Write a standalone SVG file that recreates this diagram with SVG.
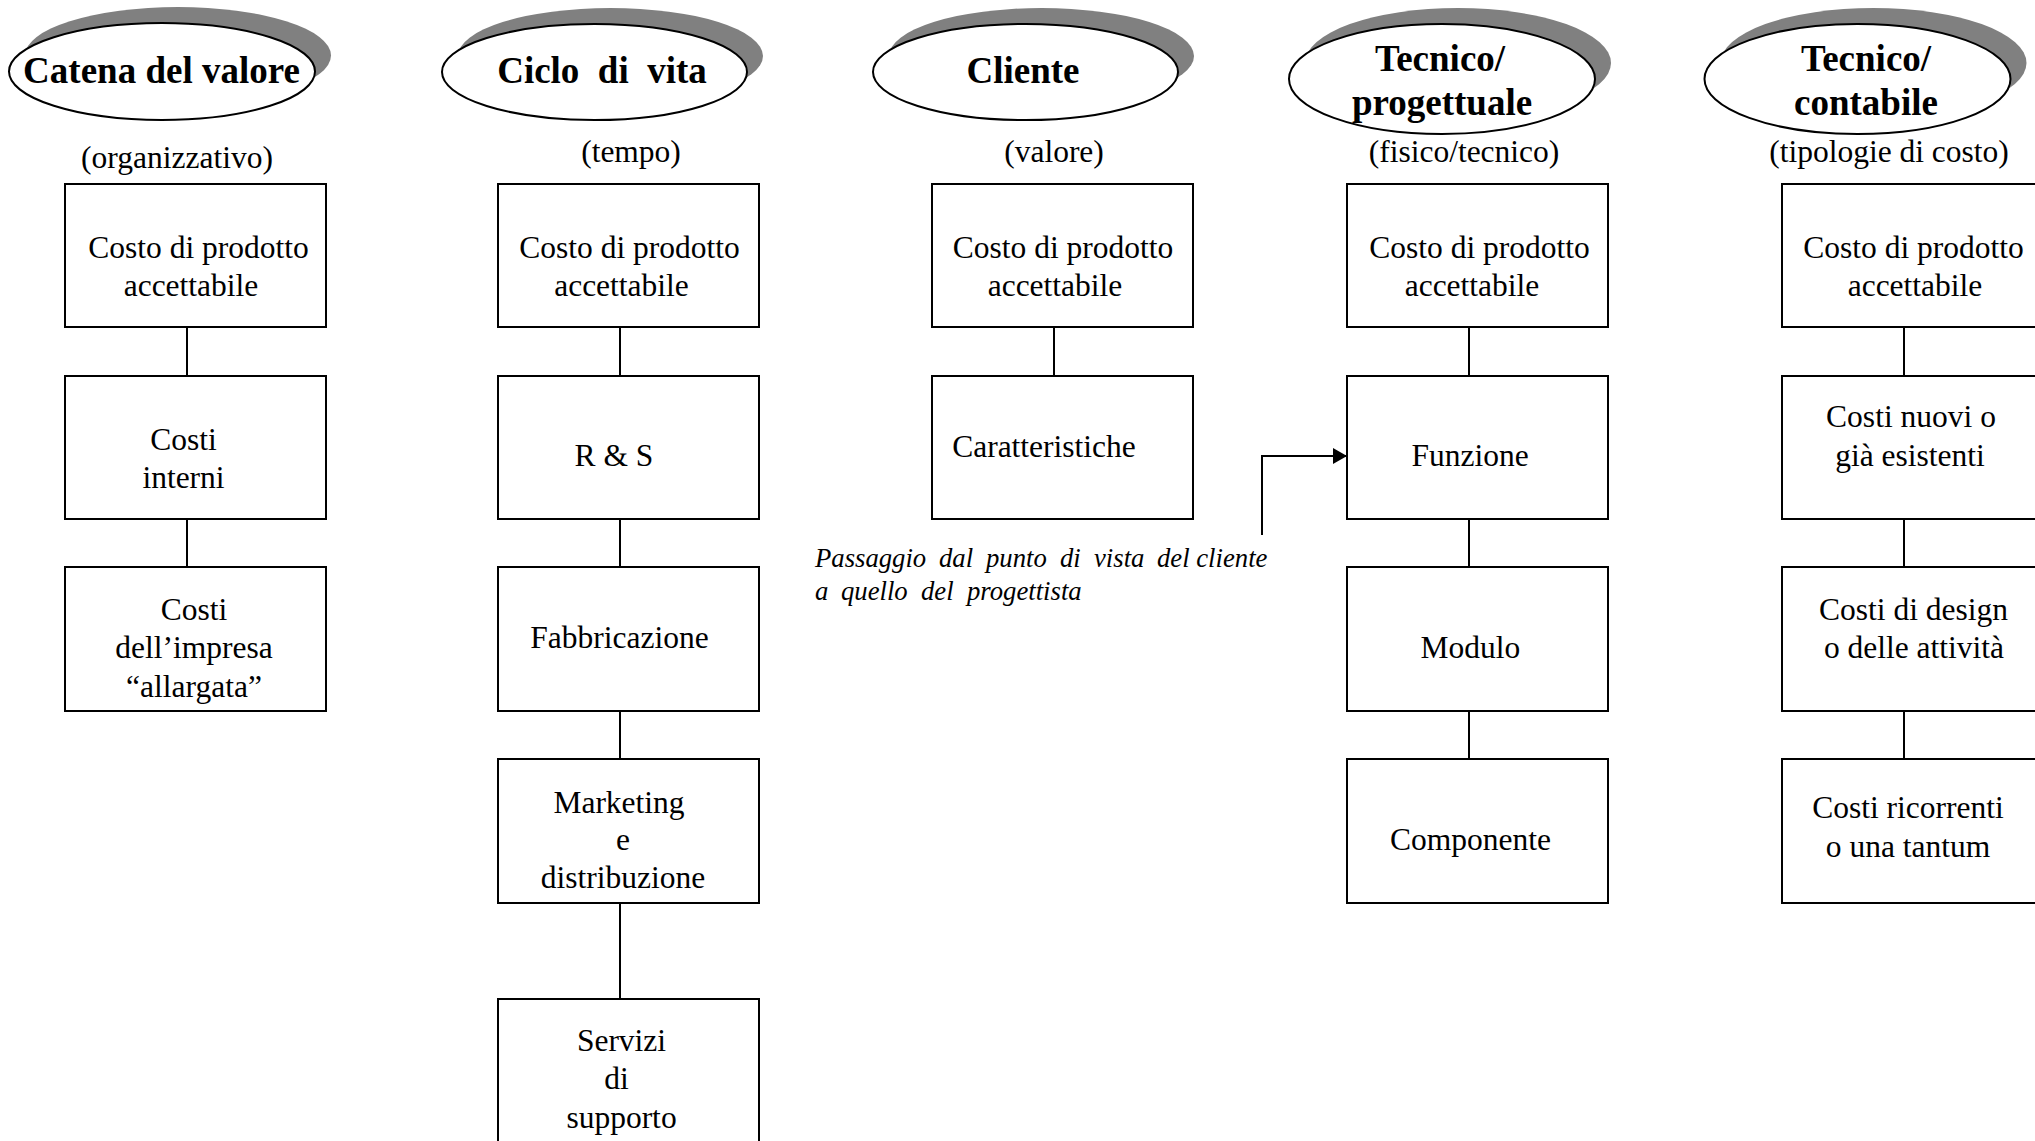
<svg xmlns="http://www.w3.org/2000/svg" width="2035" height="1141" viewBox="0 0 2035 1141">
  <style>
    .bg { fill: #ffffff; }
    .box { fill: #ffffff; stroke: #000000; stroke-width: 2; }
    .ell { fill: #ffffff; stroke: #000000; stroke-width: 2; }
    .shadow { fill: #808080; }
    .conn { fill: none; stroke: #000000; stroke-width: 2; }
    text { font-family: "Liberation Serif", "Times New Roman", serif; fill: #000000; }
    .title { font-size: 37px; font-weight: bold; text-anchor: middle; }
    .lbl { font-size: 31.5px; text-anchor: middle; }
    .note { font-size: 26.7px; font-style: italic; }
  </style>
  <defs>
    <marker id="arrow" viewBox="0 0 14 16" refX="14" refY="8" markerWidth="14" markerHeight="16" markerUnits="userSpaceOnUse" orient="auto">
      <path d="M0,0 L14,8 L0,16 Z" fill="#000000"/>
    </marker>
  </defs>

  <rect class="bg" x="0" y="0" width="2035" height="1141"/>

  <!-- column headers: ellipse with offset drop shadow -->
  <g id="head-catena">
    <ellipse class="shadow" cx="178" cy="55.5" rx="153" ry="48.5"/>
    <ellipse class="ell" cx="162" cy="71.5" rx="153" ry="48.5"/>
    <text class="title" x="161.5" y="83">Catena del valore</text>
  </g>
  <g id="head-ciclo">
    <ellipse class="shadow" cx="610.5" cy="56" rx="152.5" ry="48"/>
    <ellipse class="ell" cx="594.5" cy="72" rx="152.5" ry="48"/>
    <text class="title" x="602" y="83" xml:space="preserve">Ciclo  di  vita</text>
  </g>
  <g id="head-cliente">
    <ellipse class="shadow" cx="1041.5" cy="56" rx="152.5" ry="48"/>
    <ellipse class="ell" cx="1025.5" cy="72" rx="152.5" ry="48"/>
    <text class="title" x="1023" y="83">Cliente</text>
  </g>
  <g id="head-progettuale">
    <ellipse class="shadow" cx="1458" cy="63" rx="153" ry="55"/>
    <ellipse class="ell" cx="1442" cy="79" rx="153" ry="55"/>
    <text class="title"><tspan x="1440" y="71">Tecnico/</tspan><tspan x="1442" y="115">progettuale</tspan></text>
  </g>
  <g id="head-contabile">
    <ellipse class="shadow" cx="1873.5" cy="63" rx="153" ry="55"/>
    <ellipse class="ell" cx="1857.5" cy="79" rx="153" ry="55"/>
    <text class="title"><tspan x="1866" y="71">Tecnico/</tspan><tspan x="1866" y="115">contabile</tspan></text>
  </g>

  <!-- column subtitles -->
  <g id="subtitles">
    <text class="lbl" x="177" y="168">(organizzativo)</text>
    <text class="lbl" x="631" y="162">(tempo)</text>
    <text class="lbl" x="1054" y="162">(valore)</text>
    <text class="lbl" x="1464" y="162">(fisico/tecnico)</text>
    <text class="lbl" x="1889" y="162">(tipologie di costo)</text>
  </g>

  <!-- connectors -->
  <g id="connectors">
    <line class="conn" x1="187" y1="327" x2="187" y2="376"/>
    <line class="conn" x1="187" y1="519" x2="187" y2="567"/>

    <line class="conn" x1="620" y1="327" x2="620" y2="376"/>
    <line class="conn" x1="620" y1="519" x2="620" y2="567"/>
    <line class="conn" x1="620" y1="711" x2="620" y2="759"/>
    <line class="conn" x1="620" y1="903" x2="620" y2="999"/>

    <line class="conn" x1="1054" y1="327" x2="1054" y2="376"/>

    <line class="conn" x1="1469" y1="327" x2="1469" y2="376"/>
    <line class="conn" x1="1469" y1="519" x2="1469" y2="567"/>
    <line class="conn" x1="1469" y1="711" x2="1469" y2="759"/>

    <line class="conn" x1="1904" y1="327" x2="1904" y2="376"/>
    <line class="conn" x1="1904" y1="519" x2="1904" y2="567"/>
    <line class="conn" x1="1904" y1="711" x2="1904" y2="759"/>

    <polyline class="conn" points="1262,535 1262,456 1347,456" marker-end="url(#arrow)"/>
  </g>

  <!-- column 1: catena del valore -->
  <g id="c1-costo">
    <rect class="box" x="65" y="184" width="261" height="143"/>
    <text class="lbl"><tspan x="198.5" y="258">Costo di prodotto</tspan><tspan x="191" y="296">accettabile</tspan></text>
  </g>
  <g id="c1-interni">
    <rect class="box" x="65" y="376" width="261" height="143"/>
    <text class="lbl"><tspan x="183.5" y="450">Costi</tspan><tspan x="183.5" y="488">interni</tspan></text>
  </g>
  <g id="c1-allargata">
    <rect class="box" x="65" y="567" width="261" height="144"/>
    <text class="lbl"><tspan x="194" y="620">Costi</tspan><tspan x="194" y="658">dell’impresa</tspan><tspan x="194" y="697">“allargata”</tspan></text>
  </g>

  <!-- column 2: ciclo di vita -->
  <g id="c2-costo">
    <rect class="box" x="498" y="184" width="261" height="143"/>
    <text class="lbl"><tspan x="629.5" y="258">Costo di prodotto</tspan><tspan x="621.5" y="296">accettabile</tspan></text>
  </g>
  <g id="c2-rs">
    <rect class="box" x="498" y="376" width="261" height="143"/>
    <text class="lbl" x="614" y="466">R &amp; S</text>
  </g>
  <g id="c2-fabbricazione">
    <rect class="box" x="498" y="567" width="261" height="144"/>
    <text class="lbl" x="619.5" y="648">Fabbricazione</text>
  </g>
  <g id="c2-marketing">
    <rect class="box" x="498" y="759" width="261" height="144"/>
    <text class="lbl"><tspan x="619" y="813">Marketing</tspan><tspan x="623" y="850">e</tspan><tspan x="623" y="888">distribuzione</tspan></text>
  </g>
  <g id="c2-servizi">
    <rect class="box" x="498" y="999" width="261" height="143"/>
    <text class="lbl"><tspan x="621.5" y="1051">Servizi</tspan><tspan x="616.5" y="1089">di</tspan><tspan x="621.5" y="1128">supporto</tspan></text>
  </g>

  <!-- column 3: cliente -->
  <g id="c3-costo">
    <rect class="box" x="932" y="184" width="261" height="143"/>
    <text class="lbl"><tspan x="1063" y="258">Costo di prodotto</tspan><tspan x="1055" y="296">accettabile</tspan></text>
  </g>
  <g id="c3-caratteristiche">
    <rect class="box" x="932" y="376" width="261" height="143"/>
    <text class="lbl" x="1044" y="457">Caratteristiche</text>
  </g>

  <!-- transition note -->
  <g id="note-passaggio">
    <text class="note" y="567"><tspan x="815">Passaggio</tspan><tspan x="939">dal</tspan><tspan x="986">punto</tspan><tspan x="1060">di</tspan><tspan x="1094">vista</tspan><tspan x="1157">del cliente</tspan></text>
    <text class="note" y="600"><tspan x="815">a</tspan><tspan x="841">quello</tspan><tspan x="921">del</tspan><tspan x="967">progettista</tspan></text>
  </g>

  <!-- column 4: tecnico / progettuale -->
  <g id="c4-costo">
    <rect class="box" x="1347" y="184" width="261" height="143"/>
    <text class="lbl"><tspan x="1479.5" y="258">Costo di prodotto</tspan><tspan x="1472" y="296">accettabile</tspan></text>
  </g>
  <g id="c4-funzione">
    <rect class="box" x="1347" y="376" width="261" height="143"/>
    <text class="lbl" x="1470" y="466">Funzione</text>
  </g>
  <g id="c4-modulo">
    <rect class="box" x="1347" y="567" width="261" height="144"/>
    <text class="lbl" x="1470.5" y="658">Modulo</text>
  </g>
  <g id="c4-componente">
    <rect class="box" x="1347" y="759" width="261" height="144"/>
    <text class="lbl" x="1470.5" y="850">Componente</text>
  </g>

  <!-- column 5: tecnico / contabile -->
  <g id="c5-costo">
    <rect class="box" x="1782" y="184" width="261" height="143"/>
    <text class="lbl"><tspan x="1913.5" y="258">Costo di prodotto</tspan><tspan x="1915" y="296">accettabile</tspan></text>
  </g>
  <g id="c5-nuovi">
    <rect class="box" x="1782" y="376" width="261" height="143"/>
    <text class="lbl"><tspan x="1911" y="427">Costi nuovi o</tspan><tspan x="1910" y="466">già esistenti</tspan></text>
  </g>
  <g id="c5-design">
    <rect class="box" x="1782" y="567" width="261" height="144"/>
    <text class="lbl"><tspan x="1913.5" y="620">Costi di design</tspan><tspan x="1914" y="658">o delle attività</tspan></text>
  </g>
  <g id="c5-ricorrenti">
    <rect class="box" x="1782" y="759" width="261" height="144"/>
    <text class="lbl"><tspan x="1908" y="818">Costi ricorrenti</tspan><tspan x="1908" y="857">o una tantum</tspan></text>
  </g>
</svg>
